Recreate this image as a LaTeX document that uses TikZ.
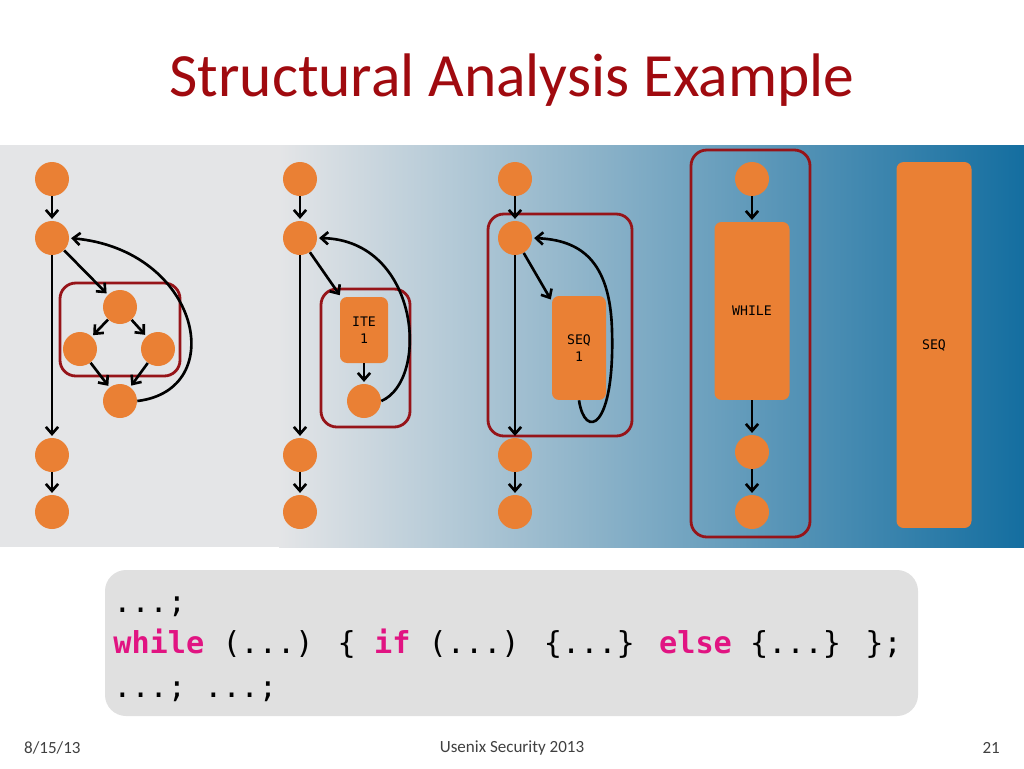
\documentclass[tikz,border=0pt]{standalone}
\usepackage{fontspec}
\setmainfont{Carlito}
\newfontfamily\codefont{DejaVu Sans Mono}
\usetikzlibrary{arrows.meta}
\definecolor{blockorange}{RGB}{234,128,52}
\definecolor{boxred}{RGB}{150,20,25}
\definecolor{titlered}{RGB}{160,10,15}
\definecolor{bandblue}{RGB}{20,110,160}
\definecolor{bandgray}{RGB}{228,229,231}
\definecolor{keypink}{RGB}{225,20,130}
\begin{document}
\begin{tikzpicture}[x=0.02cm, y=-0.02cm,
    vert/.style={circle, fill=blockorange, minimum size=0.68cm, inner sep=0pt},
    block/.style={rounded corners=4pt, fill=blockorange, inner sep=0pt, font=\codefont\fontsize{7.5}{10}\selectfont, align=center},
    region/.style={draw=boxred, line width=1.6pt, rounded corners=9pt},
    edge/.style={-{Straight Barb[length=4pt,width=7pt]}, line width=1.5pt, shorten >=1pt}
]
\useasboundingbox (0,0) rectangle (1024,768);
\fill[white] (0,0) rectangle (1024,768);
% band
\fill[bandgray] (0,145) rectangle (280,547);
\shade[left color=bandgray, right color=bandblue] (279,145) rectangle (1024,547);
\node[text=titlered, font=\fontsize{35}{40}\selectfont] (title) at (512,80) {Structural Analysis Example};

% graph one
\node[vert] (a1) at (52,179) {};
\node[vert] (a2) at (52,238) {};
\node[vert] (a3) at (120,307) {};
\node[vert] (a4) at (80,349) {};
\node[vert] (a5) at (158,349) {};
\node[vert] (a6) at (120,401) {};
\node[vert] (a7) at (52,455) {};
\node[vert] (a8) at (52,512) {};
\draw[region] (60,283) rectangle (180,376);
\draw[edge] (a1) -- (a2);
\draw[edge] (a2) -- (a7);
\draw[edge] (a7) -- (a8);
\draw[edge] (a2) -- (a3);
\draw[edge] (a3) -- (a4);
\draw[edge] (a3) -- (a5);
\draw[edge] (a4) -- (a6);
\draw[edge] (a5) -- (a6);
\draw[edge] (a6.east) .. controls (230,390) and (200,250) .. (a2.east);

% graph two
\node[vert] (b1) at (300,179) {};
\node[vert] (b2) at (300,238) {};
\node[block, minimum width=0.96cm, minimum height=1.32cm] (ite) at (364,330) {ITE\\1};
\node[vert] (b4) at (364,401) {};
\node[vert] (b5) at (300,455) {};
\node[vert] (b6) at (300,512) {};
\draw[region] (321,289) rectangle (410,427);
\draw[edge] (b1) -- (b2);
\draw[edge] (b2) -- (b5);
\draw[edge] (b5) -- (b6);
\draw[edge] (b2) -- (ite);
\draw[edge] (ite) -- (b4);
\draw[edge] (b4.east) .. controls (430,380) and (420,240) .. (b2.east);

% graph three
\node[vert] (c1) at (515,179) {};
\node[vert] (c2) at (515,238) {};
\node[block, minimum width=1.08cm, minimum height=2.08cm] (seq) at (579,348) {SEQ\\1};
\node[vert] (c5) at (515,455) {};
\node[vert] (c6) at (515,512) {};
\draw[region] (488,214) rectangle (632,436);
\draw[edge] (c1) -- (c2);
\draw[edge] (c2) -- (c5);
\draw[edge] (c5) -- (c6);
\draw[edge] (c2) -- (seq);
\draw[edge] (seq.south) .. controls (585,440) and (615,430) .. (612,330) .. controls (610,260) and (580,240) .. (c2.east);

% graph four
\node[vert] (d1) at (752,179) {};
\node[block, minimum width=1.5cm, minimum height=3.56cm] (while) at (752,311) {WHILE};
\node[vert] (d3) at (752,452) {};
\node[vert] (d4) at (752,512) {};
\draw[region] (691,150) rectangle (810,537);
\draw[edge] (d1) -- (while);
\draw[edge] (while) -- (d3);
\draw[edge] (d3) -- (d4);

% graph five
\node[block, minimum width=1.5cm, minimum height=7.32cm] (top) at (934,345) {SEQ};

% code
\fill[black!12, rounded corners=12pt] (105,570) rectangle (918,716);
\begin{scope}[every node/.style={anchor=base west, inner sep=0pt, font=\codefont\fontsize{17.2}{20}\selectfont}]
\node (l1) at (113,612) {...;};
\node (l2) at (113,653) {\textcolor{keypink}{\bfseries while} (...) \{ \textcolor{keypink}{\bfseries if} (...) \{...\} \textcolor{keypink}{\bfseries else} \{...\} \};};
\node (l3) at (113,697) {...; ...;};
\end{scope}

% footer
\node[text=black!75, font=\fontsize{9.7}{11}\selectfont, anchor=west] (date) at (18,748) {8/15/13};
\node[text=black!75, font=\fontsize{9.7}{11}\selectfont] (venue) at (512,748) {Usenix Security 2013};
\node[text=black!75, font=\fontsize{9.7}{11}\selectfont, anchor=east] (page) at (1006,748) {21};
\end{tikzpicture}
\end{document}
